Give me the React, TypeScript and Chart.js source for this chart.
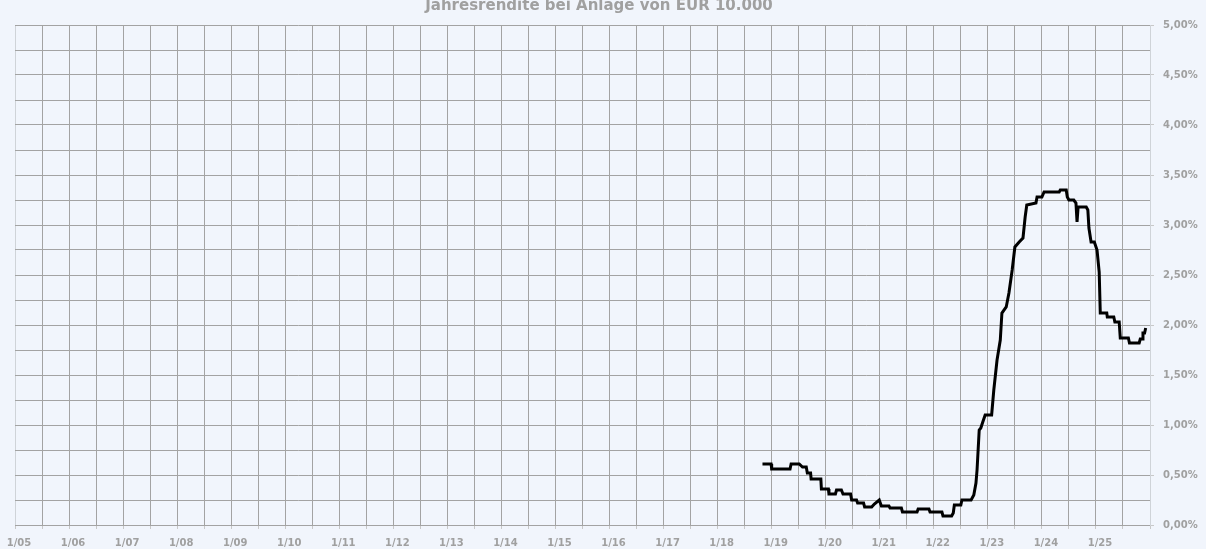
import React, { useEffect, useRef } from "react";
import { Chart, registerables } from "chart.js";

Chart.register(...registerables);

const TITLE = "Jahresrendite bei Anlage von EUR 10.000";

// decimal year of each observation
const years: number[] = [
  2018.83, 2018.99, 2019.0, 2019.34, 2019.36, 2019.51, 2019.57, 2019.64, 2019.66, 2019.72,
  2019.73, 2019.91, 2019.92, 2020.05, 2020.06, 2020.18, 2020.2, 2020.29, 2020.32, 2020.46,
  2020.48, 2020.57, 2020.59, 2020.7, 2020.72, 2020.85, 2020.9, 2020.99, 2021.03, 2021.17,
  2021.19, 2021.4, 2021.42, 2021.69, 2021.71, 2021.91, 2021.93, 2022.15, 2022.17, 2022.33,
  2022.36, 2022.38, 2022.5, 2022.52, 2022.69, 2022.74, 2022.78, 2022.8, 2022.84, 2022.87,
  2022.9, 2022.95, 2023.07, 2023.11, 2023.17, 2023.23, 2023.26, 2023.34, 2023.39, 2023.45,
  2023.5, 2023.58, 2023.65, 2023.69, 2023.72, 2023.89, 2023.91, 2024.0, 2024.04, 2024.32,
  2024.34, 2024.45, 2024.47, 2024.5, 2024.59, 2024.63, 2024.65, 2024.67, 2024.82, 2024.85,
  2024.87, 2024.91, 2024.97, 2025.02, 2025.06, 2025.08, 2025.2, 2025.21, 2025.33, 2025.35,
  2025.43, 2025.45, 2025.6, 2025.62, 2025.8, 2025.82, 2025.86, 2025.87, 2025.9, 2025.92,
];

// annual yield in percent
const yields: number[] = [
  0.61, 0.61, 0.56, 0.56, 0.61, 0.61, 0.58, 0.58, 0.52, 0.52,
  0.46, 0.46, 0.36, 0.36, 0.31, 0.31, 0.35, 0.35, 0.31, 0.31,
  0.25, 0.25, 0.22, 0.22, 0.18, 0.18, 0.21, 0.25, 0.19, 0.19,
  0.17, 0.17, 0.13, 0.13, 0.16, 0.16, 0.13, 0.13, 0.09, 0.09,
  0.12, 0.2, 0.2, 0.25, 0.25, 0.3, 0.42, 0.55, 0.95, 0.97,
  1.02, 1.1, 1.1, 1.35, 1.65, 1.85, 2.12, 2.18, 2.32, 2.55,
  2.78, 2.83, 2.87, 3.08, 3.2, 3.22, 3.28, 3.28, 3.33, 3.33,
  3.35, 3.35, 3.28, 3.25, 3.25, 3.22, 3.03, 3.18, 3.18, 3.15,
  2.97, 2.83, 2.83, 2.75, 2.53, 2.12, 2.12, 2.08, 2.08, 2.03,
  2.03, 1.87, 1.87, 1.82, 1.82, 1.86, 1.86, 1.92, 1.92, 1.97,
];

const X_MIN = 2005;
const X_MAX = 2026;
const Y_MIN = 0;
const Y_MAX = 5;

const GRID = "#a3a3a3";
const EDGE = "#cfd3d8";
const LABEL = "#a0a0a0";
const BG = "#f1f5fc";
const FONT = "'DejaVu Sans', Verdana, sans-serif";

const isHalf = (v: number) => Math.abs(v * 2 - Math.round(v * 2)) < 1e-6;

export default function App() {
  const ref = useRef<HTMLCanvasElement | null>(null);

  useEffect(() => {
    document.body.style.margin = "0";
    const canvas = ref.current;
    if (!canvas) return;

    const titlePlugin = {
      id: "topTitle",
      afterDraw(chart: any) {
        const ctx = chart.ctx;
        ctx.save();
        ctx.font = `bold 15px ${FONT}`;
        ctx.fillStyle = LABEL;
        ctx.textAlign = "center";
        ctx.textBaseline = "alphabetic";
        ctx.fillText(TITLE, 599, 10);
        ctx.restore();
      },
    };

    const chart = new Chart(canvas, {
      type: "line",
      data: {
        datasets: [
          {
            data: years.map((x, i) => ({ x, y: yields[i] })),
            borderColor: "#000000",
            borderWidth: 3,
            pointRadius: 0,
            fill: false,
            tension: 0,
          },
        ],
      },
      options: {
        animation: false,
        responsive: false,
        maintainAspectRatio: false,
        layout: { padding: { left: 15, top: 25, right: 0, bottom: 0 } },
        plugins: {
          legend: { display: false },
          title: { display: false },
          tooltip: { enabled: false },
        },
        scales: {
          x: {
            type: "linear",
            min: X_MIN,
            max: X_MAX,
            afterFit: (s: any) => {
              s.height = 24;
              s.paddingLeft = 0;
              s.paddingRight = 0;
            },
            afterBuildTicks: (s: any) => {
              const t: any[] = [];
              for (let v = X_MIN; v <= X_MAX + 1e-9; v += 0.5) t.push({ value: v });
              s.ticks = t;
            },
            border: { color: GRID, width: 1 },
            grid: {
              color: (c: any) => (c.index === 0 ? EDGE : GRID),
              tickColor: "#c8c8c8",
              tickLength: 4,
              lineWidth: 1,
            },
            ticks: {
              autoSkip: false,
              maxRotation: 0,
              padding: 8,
              labelOffset: 4,
              color: LABEL,
              font: { family: FONT, size: 10, weight: "bold" },
              callback: (v: any) => {
                const n = Number(v);
                if (!Number.isInteger(n) || n >= X_MAX) return "";
                return "1/" + String(n % 100).padStart(2, "0");
              },
            },
          },
          y: {
            type: "linear",
            position: "right",
            min: Y_MIN,
            max: Y_MAX,
            afterFit: (s: any) => {
              s.width = 56;
              s.paddingTop = 0;
              s.paddingBottom = 0;
            },
            border: { color: EDGE, width: 1 },
            grid: {
              color: GRID,
              tickColor: (c: any) => (c.tick && isHalf(c.tick.value) ? "#c8c8c8" : "rgba(0,0,0,0)"),
              tickLength: 4,
              lineWidth: 1,
            },
            ticks: {
              stepSize: 0.25,
              autoSkip: false,
              padding: 9,
              color: LABEL,
              font: { family: FONT, size: 10, weight: "bold" },
              callback: (v: any) => {
                const n = Number(v);
                if (!isHalf(n)) return "";
                return n.toFixed(2).replace(".", ",") + "%";
              },
            },
          },
        },
      },
      plugins: [titlePlugin],
    } as any);

    return () => chart.destroy();
  }, []);

  return (
    <div style={{ width: 1206, height: 549, background: BG }}>
      <canvas ref={ref} width={1206} height={549} style={{ display: "block", width: 1206, height: 549 }} />
    </div>
  );
}
